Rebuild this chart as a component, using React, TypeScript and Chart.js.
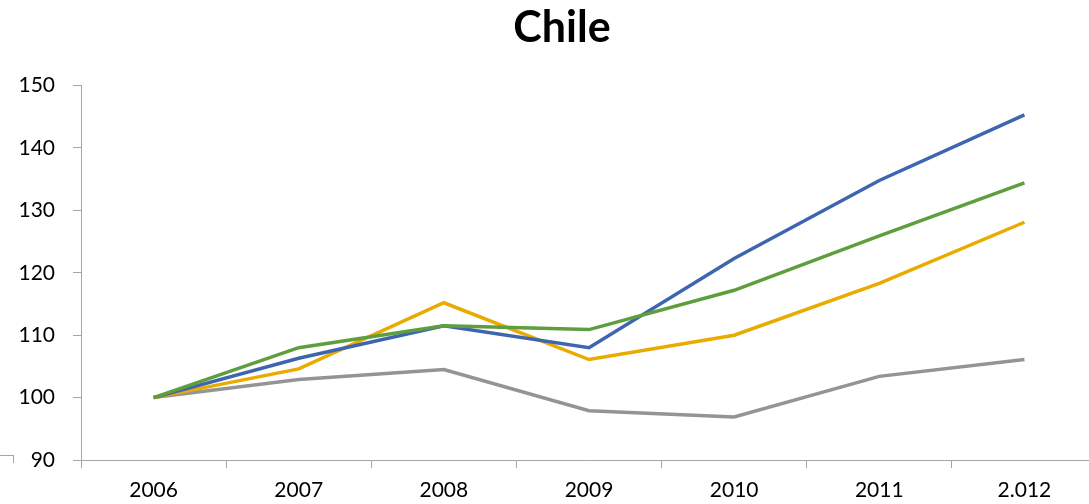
import React, { useEffect, useRef } from "react";
import { Chart, registerables } from "chart.js";

Chart.register(...registerables);

const years = ["2006", "2007", "2008", "2009", "2010", "2011", "2.012"];
const seriesBlue = [100, 106.3, 111.5, 108.0, 122.3, 134.8, 145.3];
const seriesGreen = [100, 108.0, 111.5, 110.9, 117.2, 125.9, 134.4];
const seriesYellow = [100, 104.6, 115.2, 106.1, 110.0, 118.3, 128.1];
const seriesGray = [100, 102.9, 104.5, 97.9, 96.9, 103.4, 106.1];
const yTicks = [90, 100, 110, 120, 130, 140, 150];

const FONT = "Lato, 'Open Sans', sans-serif";

const shiftTitle = {
  id: "shiftTitle",
  afterLayout(chart: any) {
    const t = chart.titleBlock;
    if (t) {
      t.left = 27;
    }
  },
};

export default function App() {
  const ref = useRef<HTMLCanvasElement>(null);
  useEffect(() => {
    if (!ref.current) return;
    const mk = (label: string, data: number[], color: string) => ({
      label,
      data,
      borderColor: color,
      backgroundColor: color,
      borderWidth: 3.5,
      pointRadius: 0,
      tension: 0,
      fill: false,
    });
    const chart = new Chart(ref.current, {
      type: "line",
      data: {
        labels: years,
        datasets: [
          mk("Verde", seriesGreen, "#5F9E3C"),
          mk("Azul", seriesBlue, "#3E65B0"),
          mk("Amarillo", seriesYellow, "#E9AB00"),
          mk("Gris", seriesGray, "#949494"),
        ],
      },
      plugins: [shiftTitle],
      options: {
        animation: false,
        responsive: false,
        maintainAspectRatio: false,
        layout: { padding: { left: 0, right: 0, top: 0, bottom: 0 } },
        plugins: {
          legend: { display: false },
          tooltip: { enabled: false },
          title: {
            display: true,
            text: "Chile",
            color: "#000",
            font: { family: FONT, size: 43, weight: "bold", lineHeight: 1.2 },
            padding: { top: 2, bottom: 32 },
          },
        },
        scales: {
          x: {
            offset: true,
            grid: {
              offset: true,
              display: true,
              drawOnChartArea: false,
              drawTicks: true,
              tickLength: 8,
              color: "#A6A6A6",
            },
            border: { display: true, color: "#A6A6A6", width: 1 },
            ticks: {
              color: "#000",
              font: { family: FONT, size: 21 },
              padding: 10,
              maxRotation: 0,
              autoSkip: false,
            },
            afterFit: (s: any) => {
              s.height = 44;
            },
          },
          y: {
            min: 90,
            max: 150,
            afterBuildTicks: (s: any) => {
              s.ticks = yTicks.map((v) => ({ value: v }));
            },
            grid: {
              display: true,
              drawOnChartArea: false,
              drawTicks: true,
              tickLength: 8,
              color: "#A6A6A6",
            },
            border: { display: true, color: "#A6A6A6", width: 1 },
            ticks: {
              color: "#000",
              font: { family: FONT, size: 21 },
              padding: 18,
            },
            afterFit: (s: any) => {
              s.width = 81;
            },
          },
        },
      },
    });
    return () => chart.destroy();
  }, []);

  return (
    <div
      style={{
        position: "absolute",
        left: 0,
        top: 0,
        width: 1089,
        height: 504,
        overflow: "hidden",
        background: "#fff",
      }}
    >
      <canvas ref={ref} width={1097} height={504} style={{ display: "block" }} />
      <div
        style={{
          position: "absolute",
          left: 0,
          top: 455,
          width: 13,
          height: 7,
          borderTop: "1px solid #A6A6A6",
          borderRight: "1px solid #A6A6A6",
        }}
      />
    </div>
  );
}
